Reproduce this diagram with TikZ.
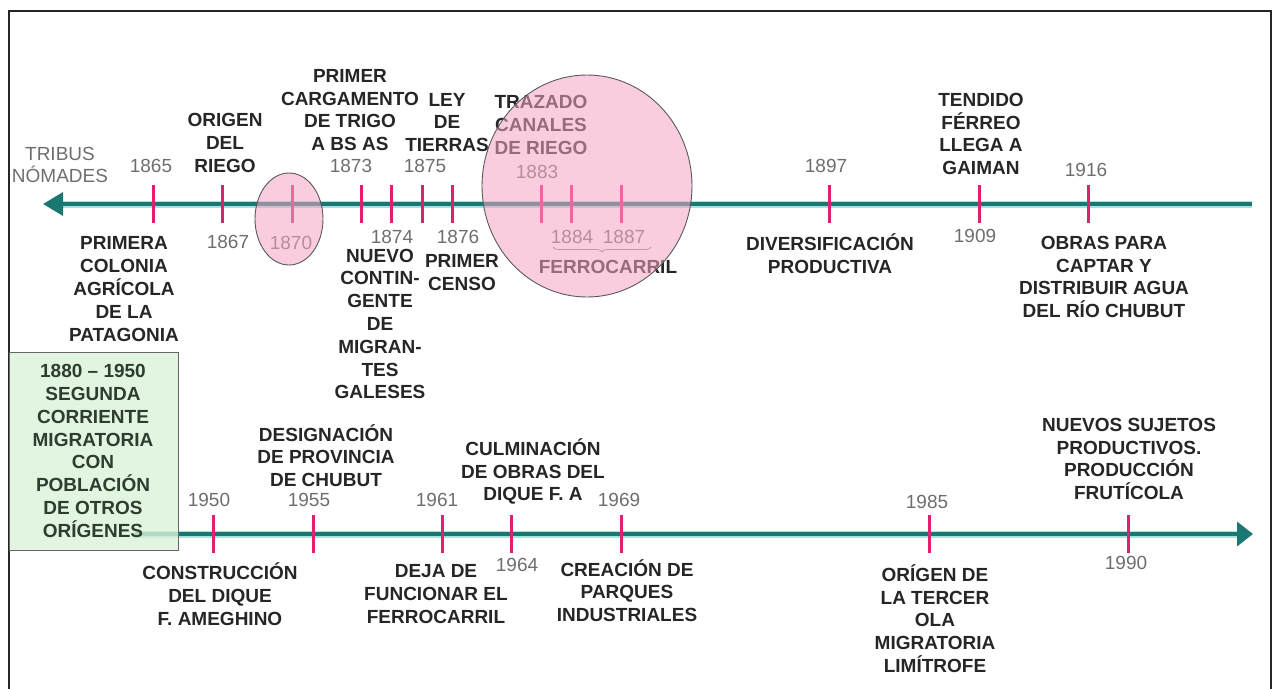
\documentclass[tikz,border=0pt]{standalone}
\usepackage{fontspec}
\setmainfont{Liberation Sans}
\usetikzlibrary{positioning,calc,arrows.meta,decorations.pathreplacing}

\definecolor{ejeverde}{HTML}{1B7772}
\definecolor{ejeclaro}{HTML}{A6E2DE}
\definecolor{marca}{HTML}{E0206E}
\definecolor{gris}{HTML}{6E6E6E}
\definecolor{rosa}{HTML}{F5A3C6}
\definecolor{verdecaja}{HTML}{DAF2DA}
\definecolor{textocaja}{HTML}{2E3D2E}

\tikzset{
  evento/.style={font=\bfseries\fontsize{19}{22.8}\selectfont, align=center, inner sep=0pt, text=black!85},
  anio/.style={font=\fontsize{19}{22.8}\selectfont, text=gris, inner sep=0pt},
  marcaanio/.style={draw=marca, line width=3pt},
  ejefondo/.style={draw=ejeclaro, line width=7pt},
  eje/.style={draw=ejeverde, line width=3.5pt},
  burbuja/.style={draw=black!65, line width=0.9pt, fill=rosa, fill opacity=0.55}
}

\begin{document}
\begin{tikzpicture}[x=1pt, y=-1pt]
    \useasboundingbox (0,0) rectangle (1273,688);
    % marco
    \draw[black!85, line width=2pt] (9,700) -- (9,11) -- (1271,11) -- (1271,700);

    % eje superior
    \coordinate (izq) at (43,204);
    \coordinate (finsup) at (1252,204);
    \draw[ejefondo] (finsup) -- ($(izq)+(18,0)$);
    \draw[eje, -{Triangle[length=20pt, width=23pt]}] (finsup) -- (izq);

    % eje inferior
    \coordinate (inicioinf) at (135,534);
    \coordinate (der) at (1253,534);
    \draw[ejefondo] (inicioinf) -- ($(der)+(-16,0)$);
    \draw[eje, -{Triangle[length=16pt, width=24pt]}] (inicioinf) -- (der);

    % marcas
    \foreach \n/\x in {1865/153, 1867/222, 1870/292, 1873/361, 1874/391, 1875/422, 1876/452,
                       1883/541, 1884/571, 1887/621, 1897/829, 1909/979, 1916/1088} {
        \coordinate (m\n) at (\x,204);
        \draw[marcaanio] ($(m\n)+(0,-19)$) -- ($(m\n)+(0,19)$);
    }
    \foreach \n/\x in {1950/213, 1955/313, 1961/442, 1964/511, 1969/621, 1985/929, 1990/1128} {
        \coordinate (m\n) at (\x,534);
        \draw[marcaanio] ($(m\n)+(0,-19)$) -- ($(m\n)+(0,19)$);
    }

    % anios
    \foreach \n/\x/\y in {1865/151/166, 1867/228/242, 1870/291/243, 1873/351/166, 1874/392/237,
                          1875/425/166, 1876/458/237, 1883/537/172, 1884/572/237, 1887/624/237,
                          1897/826/166, 1909/975/236, 1916/1086/170,
                          1950/209/500, 1955/309/500, 1961/437/500, 1964/517/565, 1969/619/500,
                          1985/927/502, 1990/1126/563} {
        \node[anio] (a\n) at (\x,\y) {\n};
    }
    \node[anio, align=center] (tribus) at (60,165) {TRIBUS\\NÓMADES};

    % eventos arriba
    \node[evento] (colonia) at (124,289) {PRIMERA\\COLONIA\\AGRÍCOLA\\DE LA\\PATAGONIA};
    \node[evento] (origen) at (225,143) {ORIGEN\\DEL\\RIEGO};
    \node[evento] (cargamento) at (350,110) {PRIMER\\CARGAMENTO\\DE TRIGO\\A BS AS};
    \node[evento] (contingente) at (380,324) {NUEVO\\CONTIN-\\GENTE\\DE\\MIGRAN-\\TES\\GALESES};
    \node[evento] (ley) at (447,122.5) {LEY\\DE\\TIERRAS};
    \node[evento] (censo) at (462,272.5) {PRIMER\\CENSO};
    \node[evento] (trazado) at (541,125) {TRAZADO\\CANALES\\DE RIEGO};
    \node[evento] (ferrocarril) at (608,267) {FERROCARRIL};
    \node[evento] (diversificacion) at (830,253.5) {DIVERSIFICACIÓN\\PRODUCTIVA};
    \node[evento] (tendido) at (981,134) {TENDIDO\\FÉRREO\\LLEGA A\\GAIMAN};
    \node[evento] (obras) at (1104,277) {OBRAS PARA\\CAPTAR Y\\DISTRIBUIR AGUA\\DEL RÍO CHUBUT};

    \coordinate (llave1) at (553,247);
    \coordinate (llave2) at (651,247);
    \draw[gris!80, line width=0.8pt, decorate, decoration={brace, amplitude=5pt, mirror}] (llave1) -- (llave2);

    % eventos abajo
    \node[evento] (designacion) at (326,455.5) {DESIGNACIÓN\\DE PROVINCIA\\DE CHUBUT};
    \node[evento] (construccion) at (220,594) {CONSTRUCCIÓN\\DEL DIQUE\\F. AMEGHINO};
    \node[evento] (deja) at (436,594) {DEJA DE\\FUNCIONAR EL\\FERROCARRIL};
    \node[evento] (culminacion) at (533,471.5) {CULMINACIÓN\\DE OBRAS DEL\\DIQUE F. A};
    \node[evento] (creacion) at (627,590.5) {CREACIÓN DE\\PARQUES\\INDUSTRIALES};
    \node[evento] (tercera) at (935,618.5) {ORÍGEN DE\\LA TERCER\\OLA\\MIGRATORIA\\LIMÍTROFE};
    \node[evento] (nuevos) at (1129,459) {NUEVOS SUJETOS\\PRODUCTIVOS.\\PRODUCCIÓN\\FRUTÍCOLA};

    % caja de la segunda corriente
    \draw[draw=black!60, line width=0.9pt, fill=verdecaja, fill opacity=0.8] (9,352) rectangle (178,550);
    \node[evento, text=textocaja] (corriente) at (93,451)
        {1880 -- 1950\\SEGUNDA\\CORRIENTE\\MIGRATORIA\\CON\\POBLACIÓN\\DE OTROS\\ORÍGENES};

    % burbujas rosas
    \draw[burbuja] (289,219) ellipse [x radius=34, y radius=46];
    \draw[burbuja] (587,186) ellipse [x radius=105, y radius=111];
\end{tikzpicture}
\end{document}
